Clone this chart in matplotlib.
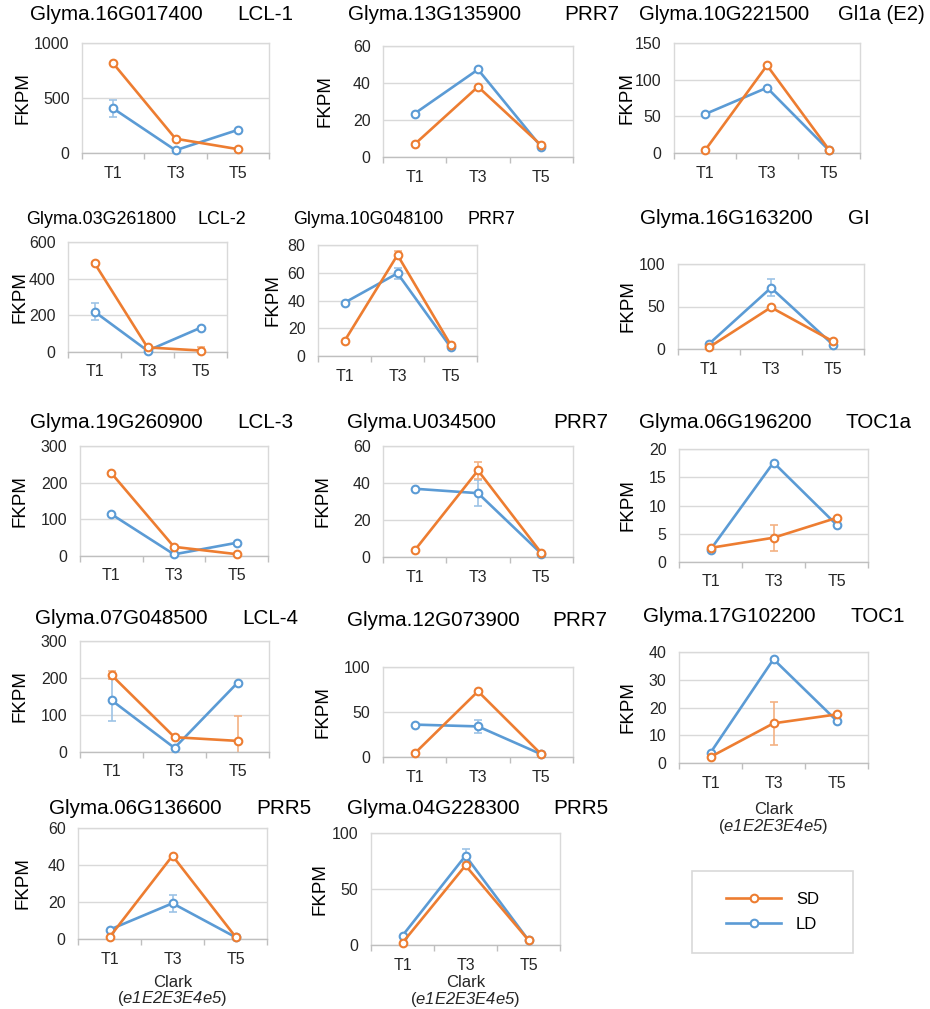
import matplotlib
matplotlib.use('Agg')
import matplotlib.pyplot as plt
from matplotlib.patches import Rectangle
from matplotlib.lines import Line2D
from matplotlib.ticker import MultipleLocator, FixedLocator

plt.rcParams['font.family'] = ['Liberation Sans', 'DejaVu Sans']
plt.rcParams['mathtext.fontset'] = 'custom'
# upright math font swapped for italic so the genotype string is fully italic
plt.rcParams['mathtext.rm'] = 'Liberation Sans:italic'
plt.rcParams['mathtext.it'] = 'Liberation Sans:italic'

# ---- data ----
times = ['T1', 'T3', 'T5']
gene_ids = ['Glyma.16G017400', 'Glyma.13G135900', 'Glyma.10G221500',
            'Glyma.03G261800', 'Glyma.10G048100', 'Glyma.16G163200',
            'Glyma.19G260900', 'Glyma.U034500', 'Glyma.06G196200',
            'Glyma.07G048500', 'Glyma.12G073900', 'Glyma.17G102200',
            'Glyma.06G136600', 'Glyma.04G228300']
gene_names = ['LCL-1', 'PRR7', 'Gl1a (E2)',
              'LCL-2', 'PRR7', 'GI',
              'LCL-3', 'PRR7', 'TOC1a',
              'LCL-4', 'PRR7', 'TOC1',
              'PRR5', 'PRR5']
y_max = [1000, 60, 150, 600, 80, 100, 300, 60, 20, 300, 100, 40, 60, 100]
y_step = [500, 20, 50, 200, 20, 50, 100, 20, 5, 100, 50, 10, 20, 50]

sd = [[815, 130, 35], [6.9, 38, 6.3], [3.6, 119.5, 4.5],
      [485, 25, 8], [10.8, 72.8, 8.2], [2, 49, 9],
      [226, 25, 5], [3.6, 46.8, 2.2], [2.5, 4.3, 7.8],
      [208, 40, 30], [4, 73, 3], [2.2, 14.3, 17.5],
      [1, 45, 1.2], [2, 71, 4.3]]
ld = [[405, 25, 210], [23.5, 47.3, 5.4], [53, 89, 3.6],
      [220, 7, 132], [38.4, 59.6, 6.5], [6, 72, 5],
      [114, 4.5, 36], [36.9, 34.5, 1.8], [2.2, 17.6, 6.6],
      [140, 11, 187], [36, 34, 3], [3.7, 37.4, 15.3],
      [5, 19.3, 1], [8.4, 79.7, 4.3]]
sd_err = [[0, 0, 15], [0, 0, 0], [0, 0, 0],
          [8, 0, 20], [0, 3, 0], [0, 0, 0],
          [0, 0, 0], [0, 4.8, 0], [0, 2.3, 0],
          [12, 0, 66], [0, 0, 0], [0, 7.8, 0],
          [0, 0, 0], [0, 0, 0]]
ld_err = [[75, 0, 0], [0, 0, 0], [0, 0, 0],
          [45, 0, 0], [0, 4, 0], [0, 10, 0],
          [0, 0, 0], [0, 7, 0], [0, 0, 0],
          [56, 0, 0], [0, 7, 0], [0, 0, 0],
          [0, 4.5, 0], [0, 6, 0]]

# ---- layout (pixels) ----
W, H = 930, 1009
boxes = [(82, 43, 269, 153), (383, 46, 573, 157), (674, 43, 860, 153),
         (68, 242, 227, 352), (318, 245, 477, 356), (678, 264, 864, 349),
         (80, 446, 268, 556), (383, 446, 573, 557), (679, 449, 868, 562),
         (80, 641, 269, 752), (383, 667, 573, 757), (679, 652, 868, 763),
         (78, 828, 267, 939), (371, 833, 560, 945)]
title_pos = [(30, 237, 15), (348, 564, 15), (639, 838, 15),
             (26, 197, 219), (293, 467, 219), (640, 848, 219),
             (30, 237, 423), (347, 553, 423), (639, 845, 423),
             (35, 242, 619), (347, 552, 620), (643, 850, 617),
             (49, 256, 809), (347, 553, 809)]
title_size = [14.9, 14.9, 14.6, 12.9, 12.9, 14.9, 14.9, 14.9, 14.9,
              14.9, 14.9, 14.9, 14.9, 14.9]
ylab_x = [23, 325, 627, 20, 273, 628, 20, 323, 628, 20, 323, 628, 23, 320]
clark_pad = {11: 8.5, 12: 6, 13: 2}

SD_C, SD_L = '#ED7D31', '#F4B183'
LD_C, LD_L = '#5B9BD5', '#9DC3E6'
GRID = '#D9D9D9'

fig = plt.figure(figsize=(W / 100, H / 100), dpi=100)

for i in range(len(gene_ids)):
    l, t, r, b = boxes[i]
    ax = fig.add_axes([l / W, 1 - b / H, (r - l) / W, (b - t) / H])
    x = [0, 1, 2]
    for vals, errs, c, lc in [(ld[i], ld_err[i], LD_C, LD_L),
                              (sd[i], sd_err[i], SD_C, SD_L)]:
        ex = [k for k in x if errs[k] > 0]
        if ex:
            ax.errorbar(ex, [vals[k] for k in ex], yerr=[errs[k] for k in ex],
                        fmt='none', ecolor=lc, elinewidth=1.2, capsize=3,
                        capthick=1.2, zorder=2)
        ax.plot(x, vals, color=c, lw=1.9, marker='o', ms=5.5, mfc='white',
                mew=1.5, zorder=3, clip_on=False)

    ax.set_xlim(-0.5, 2.5)
    ax.set_ylim(0, y_max[i])
    ax.yaxis.set_major_locator(MultipleLocator(y_step[i]))
    ax.set_xticks(x)
    ax.set_xticklabels(times)
    ax.xaxis.set_minor_locator(FixedLocator([-0.5, 0.5, 1.5, 2.5]))
    ax.tick_params(axis='x', which='major', length=0, pad=9, labelsize=11.5,
                   labelcolor='#262626')
    ax.tick_params(axis='x', which='minor', length=4, color='#BFBFBF', width=1)
    ax.tick_params(axis='y', length=0, pad=9, labelsize=11.5, labelcolor='#262626')
    ax.grid(axis='y', color=GRID, lw=1)
    ax.set_axisbelow(True)
    for s in ['top', 'left', 'right']:
        ax.spines[s].set_color(GRID)
        ax.spines[s].set_linewidth(1)
    ax.spines['bottom'].set_color('#BFBFBF')
    ax.spines['bottom'].set_linewidth(1)

    xl, xr, yt = title_pos[i]
    fig.text(xl / W, 1 - yt / H, gene_ids[i], ha='left', va='center',
             fontsize=title_size[i])
    fig.text(xr / W, 1 - yt / H, gene_names[i], ha='left', va='center',
             fontsize=title_size[i])
    fig.text(ylab_x[i] / W, 1 - (t + b) / 2 / H, 'FKPM', rotation=90,
             ha='center', va='center', fontsize=13.5)

    if i in clark_pad:
        ax.set_xlabel('Clark\n($\\mathrm{e1E2E3E4e5}$)', fontsize=12,
                      labelpad=clark_pad[i], linespacing=0.95, color='#262626')

# legend box
fig.patches.append(Rectangle((692 / W, 1 - 953 / H), 161 / W, 82 / H, fill=False,
                             edgecolor=GRID, lw=1.2, transform=fig.transFigure))
handles = [Line2D([], [], color=SD_C, lw=1.9, marker='o', ms=5.5, mfc='white', mew=1.5),
           Line2D([], [], color=LD_C, lw=1.9, marker='o', ms=5.5, mfc='white', mew=1.5)]
fig.legend(handles, ['SD', 'LD'], loc='center',
           bbox_to_anchor=((692 + 853) / 2 / W, 1 - 912 / H),
           frameon=False, handlelength=3.3, fontsize=12, labelspacing=0.6,
           handletextpad=0.9)

fig.savefig('out.png', dpi=100)
